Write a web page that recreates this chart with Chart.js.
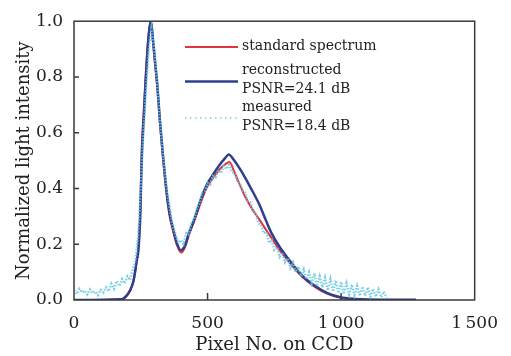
<!DOCTYPE html>
<html>
<head>
<meta charset="utf-8">
<script src="https://cdn.jsdelivr.net/npm/chart.js@4.4.1/dist/chart.umd.min.js"></script>
<style>
  html, body { margin: 0; padding: 0; background: #fff; }
  #wrap { width: 511px; height: 356px; }
</style>
</head>
<body>
<div id="wrap"><canvas id="spec" width="511" height="356"></canvas></div>
<script>
// tick labels
const xTicks = [0, 500, 1000, 1500];
const xTickLabels = ['0', '500', '1\u2009000', '1\u2009500'];
const yTicks = [0, 0.2, 0.4, 0.6, 0.8, 1.0];
const yTickLabels = ['0.0', '0.2', '0.4', '0.6', '0.8', '1.0'];

// series names
const seriesNames = ['standard spectrum', ['reconstructed', 'PSNR=24.1 dB'], ['measured', 'PSNR=18.4 dB']];

// standard spectrum (red)
const stdX = [0, 180, 193, 210, 223, 235, 241, 248, 254, 261, 268, 278, 288, 296, 304, 312, 322, 333, 342, 351, 360, 370, 385, 402,
  415, 430, 449, 473, 498, 522, 546, 565, 582, 600, 620, 640, 668, 693, 720, 741, 770, 802, 851, 900, 949, 998, 1050, 1100];
const stdY = [0, 0.002, 0.010, 0.032, 0.068, 0.14, 0.19, 0.32, 0.55, 0.68, 0.80, 0.94, 1.0, 0.92, 0.84, 0.76, 0.63, 0.51, 0.42, 0.345, 0.29, 0.25, 0.198, 0.170,
  0.188, 0.232, 0.280, 0.345, 0.405, 0.440, 0.470, 0.486, 0.495, 0.460, 0.415, 0.372, 0.325, 0.290, 0.250, 0.220, 0.178, 0.140, 0.086, 0.048, 0.022, 0.008, 0.003, 0.001];

// reconstructed (blue)
const recX = [0, 180, 193, 210, 223, 235, 241, 248, 254, 261, 268, 278, 288, 296, 304, 312, 322, 333, 342, 351, 360, 370, 385, 400,
  415, 430, 449, 473, 498, 522, 546, 565, 579, 600, 620, 640, 660, 693, 720, 741, 770, 802, 851, 900, 949, 998, 1050, 1100, 1280];
const recY = [0, 0.003, 0.012, 0.035, 0.070, 0.142, 0.178, 0.30, 0.52, 0.65, 0.78, 0.93, 1.0, 0.93, 0.85, 0.77, 0.64, 0.52, 0.43, 0.356, 0.30, 0.26, 0.205, 0.178,
  0.195, 0.240, 0.285, 0.356, 0.415, 0.452, 0.486, 0.508, 0.522, 0.500, 0.472, 0.440, 0.405, 0.344, 0.282, 0.237, 0.190, 0.148, 0.090, 0.052, 0.025, 0.010, 0.004, 0.002, 0.001];

// measured (cyan, noisy)
const measX = [0, 10, 20, 30, 40, 50, 60, 70, 80, 90, 100, 110, 120, 130, 140, 150, 160, 170, 180, 190,
  200, 210, 220, 230, 240, 250, 260, 270, 280, 290, 300, 310, 320, 330, 340, 350, 360, 370, 380, 390,
  400, 410, 420, 430, 440, 450, 460, 470, 480, 490, 500, 510, 520, 530, 540, 550, 560, 570, 580, 590,
  600, 610, 620, 630, 640, 650, 660, 670, 680, 690, 700, 710, 720, 730, 740, 750, 760, 770, 780, 790,
  800, 810, 820, 830, 840, 850, 860, 870, 880, 890, 900, 910, 920, 930, 940, 950, 960, 970, 980, 990,
  1000, 1010, 1020, 1030, 1040, 1050, 1060, 1070, 1080, 1090, 1100, 1110, 1120, 1130, 1140, 1150, 1160, 1170];
const measY = [0.035, 0.022, 0.040, 0.028, 0.033, 0.020, 0.038, 0.025, 0.030, 0.018, 0.036, 0.027, 0.045, 0.032, 0.058, 0.040, 0.068, 0.050, 0.075, 0.060,
  0.085, 0.072, 0.110, 0.140, 0.230, 0.400, 0.600, 0.760, 0.900, 0.975, 0.900, 0.790, 0.660, 0.550, 0.455, 0.380, 0.320, 0.265, 0.235, 0.205,
  0.215, 0.200, 0.240, 0.235, 0.280, 0.290, 0.330, 0.345, 0.385, 0.390, 0.420, 0.415, 0.445, 0.440, 0.465, 0.455, 0.480, 0.470, 0.485, 0.460,
  0.455, 0.430, 0.420, 0.395, 0.385, 0.355, 0.350, 0.315, 0.310, 0.275, 0.270, 0.240, 0.245, 0.205, 0.215, 0.180, 0.190, 0.155, 0.170, 0.135,
  0.150, 0.115, 0.135, 0.100, 0.120, 0.085, 0.110, 0.075, 0.100, 0.060, 0.095, 0.050, 0.085, 0.045, 0.080, 0.035, 0.075, 0.030, 0.070, 0.025,
  0.065, 0.022, 0.060, 0.020, 0.055, 0.018, 0.050, 0.015, 0.048, 0.015, 0.045, 0.012, 0.040, 0.012, 0.038, 0.010, 0.030, 0.008];

const RED = '#e3323c';
const BLUE = '#2d3f8e';
const CYAN = 'rgba(100,200,225,0.85)';
const SERIF = "'DejaVu Serif', 'Liberation Serif', serif";

function pairs(xs, ys) {
  return xs.map((x, i) => ({ x: x, y: ys[i] }));
}

// frame, inward ticks and the legend inside the plot
const framePlugin = {
  id: 'frame',
  afterDraw(chart) {
    const ctx = chart.ctx;
    const a = chart.chartArea;
    const xs = chart.scales.x, ys = chart.scales.y;
    ctx.save();
    ctx.strokeStyle = '#3a3a3a';
    ctx.lineWidth = 1.5;
    ctx.strokeRect(a.left, a.top, a.right - a.left, a.bottom - a.top);
    ctx.beginPath();
    yTicks.slice(1, -1).forEach(v => {
      const p = ys.getPixelForValue(v);
      ctx.moveTo(a.left, p); ctx.lineTo(a.left + 5, p);
    });
    xTicks.slice(1, -1).forEach(v => {
      const p = xs.getPixelForValue(v);
      ctx.moveTo(p, a.bottom); ctx.lineTo(p, a.bottom - 7);
    });
    ctx.stroke();

    // legend
    const lx0 = 185, lx1 = 238, tx = 242;
    ctx.font = '14px ' + SERIF;
    ctx.fillStyle = '#222';
    ctx.textBaseline = 'middle';
    ctx.lineWidth = 2;
    ctx.strokeStyle = RED;
    ctx.beginPath(); ctx.moveTo(lx0, 47); ctx.lineTo(lx1, 47); ctx.stroke();
    ctx.fillText(seriesNames[0], tx, 46);

    ctx.lineWidth = 2.5;
    ctx.strokeStyle = BLUE;
    ctx.beginPath(); ctx.moveTo(lx0, 81.5); ctx.lineTo(lx1, 81.5); ctx.stroke();
    ctx.fillText(seriesNames[1][0], tx, 70);
    ctx.fillText(seriesNames[1][1], tx, 89);

    ctx.lineWidth = 1.5;
    ctx.strokeStyle = CYAN;
    ctx.setLineDash([1.5, 3.5]);
    ctx.beginPath(); ctx.moveTo(lx0, 118); ctx.lineTo(lx1, 118); ctx.stroke();
    ctx.setLineDash([]);
    ctx.fillText(seriesNames[2][0], tx, 107);
    ctx.fillText(seriesNames[2][1], tx, 126);
    ctx.restore();
  }
};

new Chart(document.getElementById('spec').getContext('2d'), {
  type: 'line',
  data: {
    datasets: [
      {
        label: 'measured',
        data: pairs(measX, measY),
        borderColor: CYAN,
        borderWidth: 2.4,
        borderDash: [1.5, 1.5],
        pointRadius: 0,
        tension: 0,
        order: 0
      },
      {
        label: 'reconstructed',
        data: pairs(recX, recY),
        borderColor: BLUE,
        borderWidth: 2.5,
        pointRadius: 0,
        cubicInterpolationMode: 'monotone',
        order: 1
      },
      {
        label: 'standard spectrum',
        data: pairs(stdX, stdY),
        borderColor: RED,
        borderWidth: 2,
        pointRadius: 0,
        cubicInterpolationMode: 'monotone',
        order: 2
      }
    ]
  },
  options: {
    responsive: false,
    animation: false,
    events: [],
    layout: { padding: { top: 19, right: 27, left: 0, bottom: 0 } },
    plugins: { legend: { display: false }, tooltip: { enabled: false } },
    scales: {
      x: {
        type: 'linear',
        min: 0, max: 1500,
        afterBuildTicks: s => { s.ticks = xTicks.map(v => ({ value: v })); },
        afterFit: s => { s.height = 56; },
        grid: { display: false, drawTicks: false },
        border: { display: false },
        ticks: {
          padding: 13,
          color: '#222',
          font: { family: SERIF, size: 17 },
          maxRotation: 0,
          callback: v => xTickLabels[xTicks.indexOf(v)]
        },
        title: {
          display: true,
          text: 'Pixel No. on CCD',
          color: '#222',
          font: { family: SERIF, size: 18 },
          padding: { top: 0, bottom: 0 }
        }
      },
      y: {
        min: 0, max: 1,
        afterBuildTicks: s => { s.ticks = yTicks.map(v => ({ value: v })); },
        afterFit: s => { s.width = 74; },
        grid: { display: false, drawTicks: false },
        border: { display: false },
        ticks: {
          padding: 11,
          color: '#222',
          font: { family: SERIF, size: 17 },
          callback: v => yTickLabels[yTicks.indexOf(v)]
        },
        title: {
          display: true,
          text: 'Normalized light intensity',
          color: '#222',
          font: { family: SERIF, size: 18 },
          padding: { top: 14, bottom: 0 }
        }
      }
    }
  },
  plugins: [framePlugin]
});
</script>
</body>
</html>
